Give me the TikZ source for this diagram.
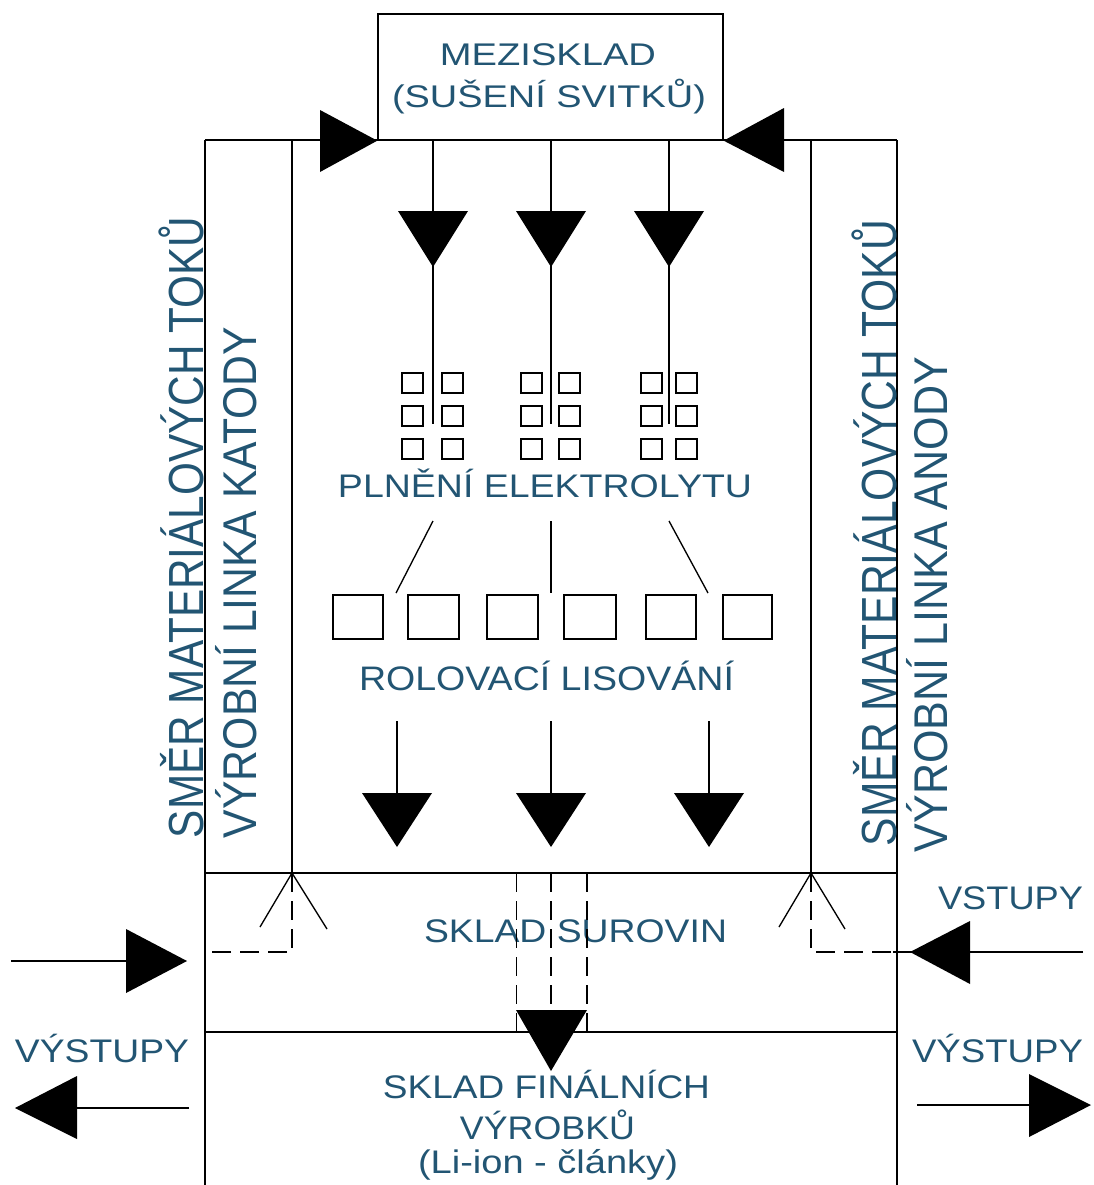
\documentclass[tikz,border=0pt]{standalone}
\usepackage{fontspec}
\setmainfont{Liberation Sans}
\usepackage{graphicx}
\definecolor{txt}{RGB}{34,85,115}
\newlength\px \setlength\px{0.75pt}
\newcommand{\fitw}[2]{\resizebox{#1\px}{\height}{#2}}
\tikzset{
  lbl/.style={inner sep=0pt, outer sep=0pt, text=txt, font=\fontsize{24.5}{28}\selectfont, anchor=base},
  vlbl/.style={inner sep=0pt, outer sep=0pt, text=txt, rotate=90, anchor=base west},
  ln/.style={line width=1pt, draw=black},
  dsh/.style={line width=1pt, draw=black, dash pattern=on 14pt off 7pt},
  tri/.style={fill=black, draw=none},
  sq/.style={draw=black, line width=1pt},
}
\begin{document}
\begin{tikzpicture}[x=0.75pt,y=-0.75pt]
\useasboundingbox (0,0) rectangle (1094,1185);
% ---------- top box
\node[ln, inner sep=0pt, minimum width=258.75pt, minimum height=94.5pt] (mez) at (550.5,77) {};
\node[lbl, font=\fontsize{23.5}{26}\selectfont] (mezt1) at (548,65) {\fitw{216}{MEZISKLAD}};
\node[lbl, font=\fontsize{23.5}{26}\selectfont] (mezt2) at (549,107) {\fitw{314}{(SUŠENÍ SVITKŮ)}};
% ---------- frame
\coordinate (tl) at (205,140); \coordinate (tr) at (897,140);
\coordinate (il) at (292,140); \coordinate (ir) at (811,140);
\draw[ln] (tl) -- (tr);
\draw[ln] (tl) -- (205,1185);
\draw[ln] (tr) -- (897,1185);
\draw[ln] (il) -- (292,873);
\draw[ln] (ir) -- (811,873);
\draw[ln] (205,873) -- (897,873);
\draw[ln] (205,1032) -- (897,1032);
% side arrows into the top box
\fill[tri] (320,110) -- (320,172) -- (mez.south west) -- cycle;
\fill[tri] (784,108) -- (784,172) -- (mez.south east) -- cycle;
% ---------- vertical labels
\node[vlbl, font=\fontsize{37}{40}\selectfont] (l1) at (203,838) {\fitw{621}{SMĚR MATERIÁLOVÝCH TOKŮ}};
\node[vlbl, font=\fontsize{35.5}{40}\selectfont] (l2) at (256,838) {\fitw{511}{VÝROBNÍ LINKA KATODY}};
\node[vlbl, font=\fontsize{37}{40}\selectfont] (r1) at (896,846) {\fitw{626}{SMĚR MATERIÁLOVÝCH TOKŮ}};
\node[vlbl, font=\fontsize{35.5}{40}\selectfont] (r2) at (947,852) {\fitw{495}{VÝROBNÍ LINKA ANODY}};
% ---------- top down arrows
\foreach \x/\n in {433/a,551/b,669/c}{
  \coordinate (top\n) at (\x,140);
  \coordinate (mid\n) at (\x,424);
  \draw[ln] (top\n) -- (mid\n);
  \fill[tri] (\x-35,211) -- (\x+35,211) -- (\x,267) -- cycle;
}
% small squares
\foreach \cx in {402,442,521,559,641,676}{
  \foreach \ry in {373,406,439}{
    \draw[sq] (\cx,\ry) rectangle +(21,20);
  }
}
\node[lbl] (plneni) at (545,497.5) {\fitw{414}{PLNĚNÍ ELEKTROLYTU}};
% connecting lines
\coordinate (c1a) at (433,521); \coordinate (c1b) at (396,593);
\coordinate (c2a) at (551,521); \coordinate (c2b) at (551,593);
\coordinate (c3a) at (669,521); \coordinate (c3b) at (708,593);
\draw[ln] (c1a) -- (c1b);
\draw[ln] (c2a) -- (c2b);
\draw[ln] (c3a) -- (c3b);
% big squares
\foreach \bx/\bw in {333/50,408/51,487/51,564/52,646/50,723/49}{
  \draw[sq] (\bx,595) rectangle +(\bw,44);
}
\node[lbl, font=\fontsize{25.5}{28}\selectfont] (rol) at (546.5,690) {\fitw{375}{ROLOVACÍ LISOVÁNÍ}};
% bottom arrows of the production area
\foreach \x/\n in {397/a,551/b,709/c}{
  \coordinate (ba\n) at (\x,721);
  \coordinate (bb\n) at (\x,793);
  \draw[ln] (ba\n) -- (bb\n);
  \fill[tri] (\x-35,793) -- (\x+35,793) -- (\x,847) -- cycle;
}
% ---------- raw material store
\node[lbl] (surovin) at (575.5,942) {\fitw{303}{SKLAD SUROVIN}};
\draw[dsh] (292,873) -- (292,952) -- (205,952);
\draw[dsh] (811,873) -- (811,952) -- (897,952);
\draw[ln] (260,927) -- (292,873) -- (327,929);
\draw[ln] (779,927) -- (811,873) -- (845,929);
\draw[dsh] (516.5,873) -- (516.5,1032);
\draw[dsh] (587,873) -- (587,1032);
\draw[dsh] (551,873) -- (551,1010);
\fill[tri] (516,1010) -- (587,1010) -- (551,1071) -- cycle;
% inputs
\node[lbl] (vstupy) at (1010.5,909) {\fitw{145}{VSTUPY}};
\coordinate (inL0) at (11,961); \coordinate (inL1) at (126,961);
\draw[ln] (inL0) -- (inL1);
\fill[tri] (126,929) -- (126,993) -- (187,961) -- cycle;
\coordinate (inR0) at (1083,952); \coordinate (inR1) at (893,952);
\draw[ln] (inR0) -- (inR1);
\fill[tri] (970,921) -- (970,984) -- (910,952) -- cycle;
% outputs
\node[lbl] (vystL) at (102,1062) {\fitw{174}{VÝSTUPY}};
\node[lbl] (vystR) at (997.5,1062) {\fitw{171}{VÝSTUPY}};
\coordinate (outL0) at (189,1108); \coordinate (outL1) at (77,1108);
\draw[ln] (outL0) -- (outL1);
\fill[tri] (77,1076) -- (77,1139) -- (15,1108) -- cycle;
\coordinate (outR0) at (917,1105); \coordinate (outR1) at (1029,1105);
\draw[ln] (outR0) -- (outR1);
\fill[tri] (1029,1074) -- (1029,1137) -- (1091,1105) -- cycle;
% ---------- final products
\node[lbl] (fin1) at (546.5,1098) {\fitw{327}{SKLAD FINÁLNÍCH}};
\node[lbl] (fin2) at (547.5,1139) {\fitw{175}{VÝROBKŮ}};
\node[lbl] (fin3) at (548,1173) {\fitw{260}{(Li-ion - články)}};
\end{tikzpicture}
\end{document}
